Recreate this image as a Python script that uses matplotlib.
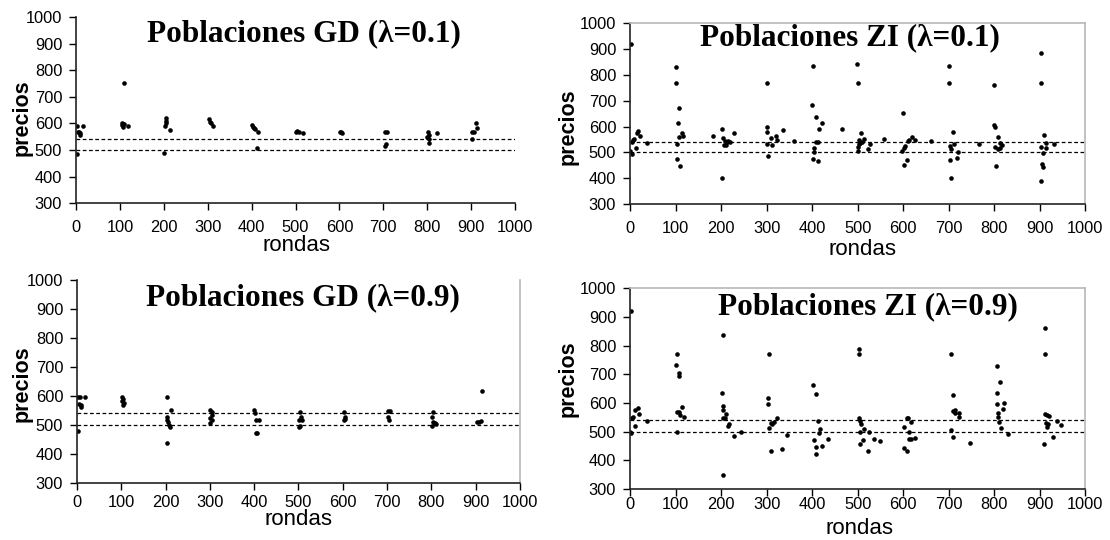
# Precios por ronda - poblaciones GD y ZI
import matplotlib
matplotlib.use('Agg')
import matplotlib.pyplot as plt

plt.rcParams['font.family'] = ['Liberation Sans', 'DejaVu Sans']

# Poblaciones GD (lambda=0.1)
gd01_x = [2, 3, 5, 8, 10, 6, 17,
          110, 104, 105, 107, 110, 118, 106,
          201, 204, 205, 204, 203, 214,
          303, 305, 308, 311,
          401, 403, 406, 408, 414, 412,
          500, 504, 508, 517,
          601, 606, 604,
          704, 709, 707, 704,
          801, 803, 800, 804, 805, 822,
          911, 913, 903, 907, 903]
gd01_y = [484, 591, 569, 565, 558, 567, 591,
          752, 602, 594, 588, 598, 592, 596,
          488, 619, 610, 600, 591, 574,
          618, 606, 600, 590,
          594, 586, 581, 578, 568, 506,
          566, 571, 567, 565,
          569, 565, 567,
          566, 566, 522, 515,
          566, 556, 550, 542, 527, 565,
          600, 581, 566, 566, 540]

# Poblaciones ZI (lambda=0.1)
zi01_x = [2, 0, 4, 5, 7, 9, 13, 15, 18, 21, 38,
          101, 101, 108, 106, 103, 104, 109, 108, 114, 117,
          182, 202, 202, 205, 209, 212, 206, 211, 216, 220, 229,
          302, 300, 302, 302, 304, 310, 313, 320, 324, 336, 361,
          401, 400, 409, 415, 421, 409, 412, 404, 404, 401, 412,
          466,
          499, 500, 507, 503, 505, 510, 514, 501, 503, 500, 523, 528, 557,
          600, 597, 602, 605, 602, 609, 610, 613, 619, 627, 662,
          701, 701, 709, 702, 706, 704, 705, 711, 718, 721, 766,
          800, 800, 802, 809, 803, 808, 813, 818, 805, 813,
          904, 903, 910, 902, 908, 905, 907, 902, 915, 914, 931]
zi01_y = [919, 506, 494, 541, 548, 552, 519, 577, 583, 563, 535,
          832, 767, 672, 614, 532, 473, 447, 561, 574, 563,
          563, 592, 403, 554, 544, 539, 528, 530, 545, 541, 575,
          767, 597, 580, 532, 486, 555, 527, 563, 548, 586, 545,
          835, 683, 639, 592, 614, 539, 539, 519, 500, 473, 468,
          592,
          843, 767, 574, 548, 537, 540, 552, 522, 532, 505, 513, 534, 552,
          654, 504, 519, 525, 451, 470, 545, 550, 561, 550, 545,
          835, 767, 579, 525, 515, 470, 400, 532, 477, 501, 532,
          761, 608, 597, 561, 522, 514, 519, 530, 447, 537,
          883, 767, 567, 522, 499, 457, 445, 389, 519, 535, 534]

# Poblaciones GD (lambda=0.9)
gd09_x = [3, 3, 7, 5, 9, 10, 19,
          101, 104, 102, 105, 103,
          204, 213, 203, 204, 206, 208, 210, 203,
          301, 304, 305, 301, 304, 301,
          400, 401, 403, 410, 404, 406,
          503, 505, 501, 507, 503, 501,
          602, 604, 602, 606,
          702, 706, 702, 705,
          803, 801, 804, 808, 811, 802,
          915, 904, 908, 912]
gd09_y = [479, 597, 597, 572, 570, 562, 597,
          597, 591, 582, 576, 569,
          597, 552, 528, 518, 510, 501, 494, 437,
          552, 544, 534, 524, 516, 506,
          550, 540, 518, 518, 473, 473,
          546, 528, 518, 516, 498, 492,
          546, 528, 516, 522,
          547, 547, 528, 518,
          546, 526, 510, 506, 503, 498,
          616, 510, 510, 512]

# Poblaciones ZI (lambda=0.9)
zi09_x = [2, 0, 2, 5, 7, 12, 12, 18, 20, 38,
          103, 101, 108, 107, 104, 107, 110, 115, 119, 103,
          205, 202, 205, 204, 204, 208, 211, 215, 218, 229, 244, 205,
          305, 303, 303, 305, 310, 313, 316, 322, 309, 333, 345,
          403, 409, 412, 418, 416, 404, 409, 421, 409, 436,
          503, 504, 503, 506, 508, 515, 505, 524, 511, 505, 522, 537, 549,
          608, 611, 603, 618, 614, 612, 618, 627, 603, 608,
          705, 709, 709, 713, 714, 723, 723, 706, 709, 748,
          807, 814, 806, 807, 809, 809, 811, 821, 820, 815, 830,
          911, 911, 911, 916, 920, 914, 918, 917, 910, 929, 938, 948]
zi09_y = [921, 498, 494, 546, 550, 520, 575, 582, 562, 536,
          769, 732, 706, 694, 570, 567, 559, 587, 552, 499,
          837, 634, 591, 575, 546, 546, 562, 520, 526, 486, 499, 349,
          769, 617, 595, 513, 529, 526, 535, 549, 434, 438, 487,
          663, 630, 538, 509, 494, 471, 448, 451, 421, 473,
          788, 769, 546, 538, 527, 510, 500, 500, 471, 457, 434, 473, 467,
          546, 546, 517, 535, 500, 473, 473, 477, 442, 434,
          769, 628, 572, 575, 564, 564, 550, 506, 480, 459,
          729, 674, 634, 595, 564, 550, 533, 599, 580, 513, 490,
          860, 769, 560, 558, 553, 531, 526, 517, 457, 480, 538, 524]

titles = ['Poblaciones GD (λ=0.1)', 'Poblaciones ZI (λ=0.1)',
          'Poblaciones GD (λ=0.9)', 'Poblaciones ZI (λ=0.9)']
ticks_x = [0, 100, 200, 300, 400, 500, 600, 700, 800, 900, 1000]
ticks_y = [300, 400, 500, 600, 700, 800, 900, 1000]
limits = [500, 540]

fig = plt.figure(figsize=(11.1, 5.4), dpi=100)

# rect, title pos, hidden spines, x tick pad, xlabel coords, ylabel coords
panels = [
    (gd01_x, gd01_y, [0.0685, 0.624, 0.3955, 0.344], (0.52, 0.912), ['top', 'right'],
     7, (0.503, -0.17), (-0.10, 0.46)),
    (zi01_x, zi01_y, [0.5676, 0.622, 0.41, 0.335], (0.484, 0.92), [],
     7, (0.51, -0.195), (-0.112, 0.43)),
    (gd09_x, gd09_y, [0.0694, 0.1056, 0.399, 0.376], (0.51, 0.91), ['top'],
     4, (0.50, -0.13), (-0.10, 0.49)),
    (zi09_x, zi09_y, [0.5676, 0.0944, 0.41, 0.372], (0.523, 0.91), [],
     1, (0.505, -0.145), (-0.112, 0.55)),
]

for i, (xs, ys, rect, tpos, hidden, xpad, xl, yl) in enumerate(panels):
    ax = fig.add_axes(rect)
    ax.plot(xs, ys, 'o', color='black', markersize=3.3, markeredgewidth=0)
    for v in limits:
        ax.axhline(v, color='black', lw=0.9, ls=(0, (3, 2)))
    ax.set_xlim(0, 1000)
    ax.set_ylim(300, 1000)
    ax.set_xticks(ticks_x)
    ax.set_yticks(ticks_y)
    ax.tick_params(axis='both', labelsize=11.8, length=5, width=1, direction='out')
    ax.tick_params(axis='x', pad=xpad)
    ax.tick_params(axis='y', pad=5)
    for s in ['left', 'bottom']:
        ax.spines[s].set_color('#222222')
        ax.spines[s].set_linewidth(1.2)
    for s in ['top', 'right']:
        ax.spines[s].set_color('#b8b8b8')
        ax.spines[s].set_linewidth(1.2)
    for s in hidden:
        ax.spines[s].set_visible(False)
    ax.set_xlabel('rondas', fontsize=16)
    ax.set_ylabel('precios', fontsize=15.5, fontweight='bold')
    ax.xaxis.set_label_coords(*xl)
    ax.yaxis.set_label_coords(*yl)
    ax.text(tpos[0], tpos[1], titles[i], transform=ax.transAxes,
            ha='center', va='center', fontsize=22.5, fontweight='bold',
            family=['Liberation Serif', 'DejaVu Serif'])

fig.savefig('out.png', dpi=100)
